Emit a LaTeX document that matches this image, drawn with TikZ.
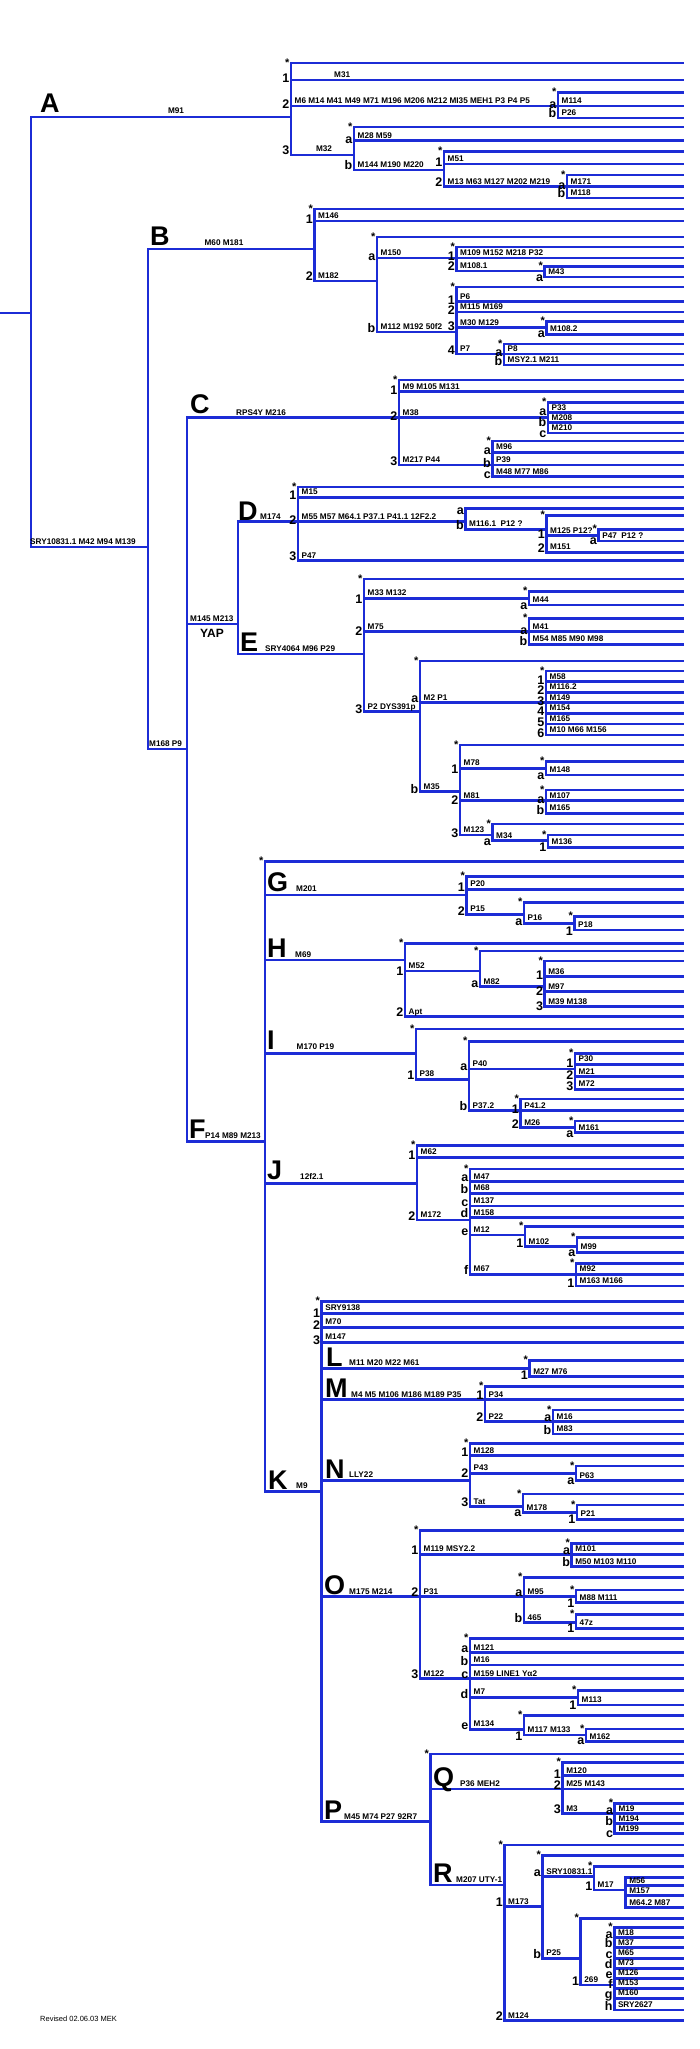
\documentclass[tikz,border=0pt]{standalone}
\usepackage{fontspec}
\setmainfont{Liberation Sans}
\usetikzlibrary{positioning}
\definecolor{treeblue}{RGB}{28,44,214}
\newcommand\rim{683}
% vertical bar of a clade
\newcommand\stem[3]{\draw[br] (#1,#2) -- (#1,#3);}
% paragroup line with its star
\newcommand\tip[2]{\draw[br] (#1,#2) -- (\rim,#2); \node[star] at (#1-1.5,#2+3.2) {*};}
% branch: [index drop] bar x, y, end x, index, markers
\newcommand\twig[6][2.5]{\draw[br] (#2,#3) -- (#4,#3);
  \node[idx] at (#2-1.5,#3+#1) {#5};
  \node[mk] at (#2+3.5,#3-2.5) {#6};}

\begin{document}
\begin{tikzpicture}[x=1pt,y=-1pt,
    br/.style={draw=treeblue,line width=2.7pt,line cap=rect},
    mk/.style={font=\bfseries\fontsize{8.2}{9}\selectfont,anchor=base west,inner sep=0pt},
    idx/.style={font=\bfseries\fontsize{12.5}{13}\selectfont,anchor=base east,inner sep=0pt},
    star/.style={font=\bfseries\fontsize{11}{11}\selectfont,anchor=base east,inner sep=0pt},
    clade/.style={font=\bfseries\fontsize{27}{27}\selectfont,anchor=base west,inner sep=0pt}]
\useasboundingbox (0,0) rectangle (700,2049);

% root
\draw[br] (0,313) -- (31,313);
\stem{31}{117}{547}

% A
\draw[br] (31,117) -- (291,117);
\node[clade] (A) at (40,113) {A};
\node[mk,anchor=base] at (176,114) {M91};
\stem{291}{63}{155}
\tip{291}{63}
\twig{291}{80}{\rim}{1}{}
\node[mk] at (334,77.5) {M31};
\twig{291}{106}{558}{2}{M6 M14 M41 M49 M71 M196 M206 M212 MI35 MEH1 P3 P4 P5}
  \stem{558}{92.7}{118}
  \tip{558}{92.7}
  \twig{558}{106}{\rim}{a}{M114}
  \twig[0]{558}{118}{\rim}{b}{P26}
\twig[0]{291}{155}{354}{3}{}
\node[mk,anchor=base] at (324,152) {M32};
  \stem{354}{127}{170}
  \tip{354}{127}
  \twig{354}{140.7}{\rim}{a}{M28 M59}
  \twig[0]{354}{170}{444}{b}{M144 M190 M220}
    \stem{444}{151.7}{186.7}
    \tip{444}{151.7}
    \twig{444}{164}{\rim}{1}{M51}
    \twig[0]{444}{186.7}{567}{2}{M13 M63 M127 M202 M219}
      \stem{567}{175}{198}
      \tip{567}{175}
      \twig{567}{186.7}{\rim}{a}{M171}
      \twig[0]{567}{198}{\rim}{b}{M118}

% B
\draw[br] (31,547) -- (148,547);
\node[mk] at (30,544.5) {SRY10831.1 M42 M94 M139};
\stem{148}{249}{749}
\draw[br] (148,249) -- (314.5,249);
\node[clade] (B) at (150,246) {B};
\node[mk,anchor=base] at (224,246) {M60 M181};
\stem{314.5}{209}{281}
\tip{314.5}{209}
\twig{314.5}{221}{\rim}{1}{M146}
\twig[0]{314.5}{281}{377}{2}{M182}
  \stem{377}{237}{332}
  \tip{377}{237}
  \twig{377}{258}{456.5}{a}{M150}
    \stem{456.5}{247}{271}
    \tip{456.5}{247}
    \twig{456.5}{258}{\rim}{1}{M109 M152 M218 P32}
    \twig[0]{456.5}{271}{544.7}{2}{M108.1}
      \stem{544.7}{266.7}{277}
      \tip{544.7}{266.7}
      \twig[5]{544.7}{277}{\rim}{a}{M43}
  \twig[0]{377}{332}{456.5}{b}{M112 M192 50f2}
    \stem{456.5}{287}{354}
    \tip{456.5}{287}
    \twig{456.5}{301.7}{\rim}{1}{P6}
    \twig{456.5}{312}{\rim}{2}{M115 M169}
    \twig{456.5}{327.7}{546.5}{3}{M30 M129}
      \stem{546.5}{321.7}{334.3}
      \tip{546.5}{321.7}
      \twig[3]{546.5}{334.3}{\rim}{a}{M108.2}
    \twig[0]{456.5}{354}{504}{4}{P7}
      \stem{504}{344}{365}
      \tip{504}{344}
      \twig{504}{354}{\rim}{a}{P8}
      \twig[0]{504}{365}{\rim}{b}{MSY2.1 M211}

% C
\draw[br] (148,749) -- (187,749);
\node[mk] at (149,746) {M168 P9};
\stem{187}{417.7}{1141.7}
\draw[br] (187,417.7) -- (399,417.7);
\node[clade] (C) at (190,413) {C};
\node[mk] at (236,415) {RPS4Y M216};
\stem{399}{380}{465}
\tip{399}{380}
\twig{399}{391.7}{\rim}{1}{M9 M105 M131}
\twig{399}{417.7}{548}{2}{M38}
  \stem{548}{402.7}{433}
  \tip{548}{402.7}
  \twig{548}{412.7}{\rim}{a}{P33}
  \twig[4]{548}{422.7}{\rim}{b}{M208}
  \twig[4]{548}{433}{\rim}{c}{M210}
\twig[0]{399}{465}{492.5}{3}{M217 P44}
  \stem{492.5}{441}{476.7}
  \tip{492.5}{441}
  \twig{492.5}{452.3}{\rim}{a}{M96}
  \twig{492.5}{465}{\rim}{b}{P39}
  \twig[2]{492.5}{476.7}{\rim}{c}{M48 M77 M86}

% YAP
\draw[br] (187,624) -- (238,624);
\node[mk] at (190,621.5) {M145 M213};
\node[font=\bfseries\fontsize{12}{12}\selectfont,anchor=base,inner sep=0pt] at (212,637) {YAP};
\stem{238}{521.7}{654}

% D
\draw[br] (238,521.7) -- (298,521.7);
\node[clade] (D) at (238,520) {D};
\node[mk] at (260,519) {M174};
\stem{298}{487}{560.7}
\tip{298}{487}
\twig{298}{497.3}{\rim}{1}{M15}
\twig{298}{521.7}{465.5}{2}{M55 M57 M64.1 P37.1 P41.1 12F2.2}
  \stem{465.5}{508.3}{529.3}
  \twig[6]{465.5}{508.3}{\rim}{a}{}
  \twig[0]{465.5}{529.3}{546.5}{b}{M116.1 \ P12 ?}
    \stem{546.5}{515.7}{552.3}
    \tip{546.5}{515.7}
    \twig{546.5}{535.7}{598.6}{1}{M125 P12?}
      \stem{598.6}{529.3}{541}
      \tip{598.6}{529.3}
      \twig[3]{598.6}{541}{\rim}{a}{P47 \ P12 ?}
    \twig[0]{546.5}{552.3}{\rim}{2}{M151}
\twig[0]{298}{560.7}{\rim}{3}{P47}

% E
\draw[br] (238,654) -- (364,654);
\node[clade] (E) at (240,651.5) {E};
\node[mk] at (265,651) {SRY4064 M96 P29};
\stem{364}{579}{711.7}
\tip{364}{579}
\twig[5]{364}{598.3}{529}{1}{M33 M132}
  \stem{529}{591.7}{605}
  \tip{529}{591.7}
  \twig[4]{529}{605}{\rim}{a}{M44}
\twig[4]{364}{631.7}{529}{2}{M75}
  \stem{529}{618.3}{644.3}
  \tip{529}{618.3}
  \twig{529}{631.7}{\rim}{a}{M41}
  \twig[1]{529}{644.3}{\rim}{b}{M54 M85 M90 M98}
\twig[2]{364}{711.7}{420}{3}{P2 DYS391p}
  \stem{420}{661}{791.7}
  \tip{420}{661}
  \twig[0]{420}{702.7}{546}{a}{M2 P1}
    \stem{546}{671}{735}
    \tip{546}{671}
    \twig{546}{681.7}{\rim}{1}{M58}
    \twig{546}{692.3}{\rim}{2}{M116.2}
    \twig{546}{702.7}{\rim}{3}{M149}
    \twig{546}{713.3}{\rim}{4}{M154}
    \twig{546}{724}{\rim}{5}{M165}
    \twig[2]{546}{735}{\rim}{6}{M10 M66 M156}
  \twig[2]{420}{791.7}{460}{b}{M35}
    \stem{460}{745}{835}
    \tip{460}{745}
    \twig[5]{460}{768.3}{546}{1}{M78}
      \stem{546}{761.7}{775}
      \tip{546}{761.7}
      \twig[4]{546}{775}{\rim}{a}{M148}
    \twig[4]{460}{800.7}{546}{2}{M81}
      \stem{546}{790}{813.3}
      \tip{546}{790}
      \twig{546}{800.7}{\rim}{a}{M107}
      \twig[1]{546}{813.3}{\rim}{b}{M165}
    \twig[2]{460}{835}{492.5}{3}{M123}
      \stem{492.5}{824}{840.7}
      \tip{492.5}{824}
      \twig[5]{492.5}{840.7}{548}{a}{M34}
        \stem{548}{835}{847.3}
        \tip{548}{835}
        \twig[4]{548}{847.3}{\rim}{1}{M136}

% F
\draw[br] (187,1141.7) -- (265,1141.7);
\node[clade] (F) at (189,1138) {F};
\node[mk] at (205,1138.5) {P14 M89 M213};
\stem{265}{861.7}{1491.7}
\tip{265}{861.7}

% G
\draw[br] (265,895) -- (466.6,895);
\node[clade] (G) at (267,891.5) {G};
\node[mk] at (296,891) {M201};
\stem{466.6}{876.7}{914.3}
\tip{466.6}{876.7}
\twig{466.6}{889.3}{\rim}{1}{P20}
\twig[1]{466.6}{914.3}{524}{2}{P15}
  \stem{524}{902.7}{923.3}
  \tip{524}{902.7}
  \twig[2]{524}{923.3}{574.5}{a}{P16}
    \stem{574.5}{916.7}{930}
    \tip{574.5}{916.7}
    \twig[5]{574.5}{930}{\rim}{1}{P18}

% H
\draw[br] (265,960) -- (405,960);
\node[clade] (H) at (267,957.5) {H};
\node[mk] at (295,957) {M69};
\stem{405}{943.3}{1016.7}
\tip{405}{943.3}
\twig[4]{405}{971}{480}{1}{M52}
  \stem{480}{951}{986.7}
  \tip{480}{951}
  \twig[1]{480}{986.7}{544.7}{a}{M82}
    \stem{544.7}{961}{1006.7}
    \tip{544.7}{961}
    \twig{544.7}{976.7}{\rim}{1}{M36}
    \twig[4]{544.7}{991.7}{\rim}{2}{M97}
    \twig[4]{544.7}{1006.7}{\rim}{3}{M39 M138}
\twig[0]{405}{1016.7}{\rim}{2}{Apt}

% I
\draw[br] (265,1053.3) -- (416,1053.3);
\node[clade] (I) at (267,1049.5) {I};
\node[mk] at (296.5,1049) {M170 P19};
\stem{416}{1029}{1079.3}
\tip{416}{1029}
\twig[0]{416}{1079.3}{469}{1}{P38}
  \stem{469}{1041.7}{1110.5}
  \tip{469}{1041.7}
  \twig[1]{469}{1069}{575}{a}{P40}
    \stem{575}{1053.3}{1089.3}
    \tip{575}{1053.3}
    \twig[3]{575}{1064.3}{\rim}{1}{P30}
    \twig[3]{575}{1076.7}{\rim}{2}{M21}
    \twig[1]{575}{1089.3}{\rim}{3}{M72}
  \twig[0]{469}{1110.5}{520.6}{b}{P37.2}
    \stem{520.6}{1099}{1127.7}
    \tip{520.6}{1099}
    \twig{520.6}{1110.5}{\rim}{1}{P41.2}
    \twig[1]{520.6}{1127.7}{575}{2}{M26}
      \stem{575}{1121}{1132.7}
      \tip{575}{1121}
      \twig[5]{575}{1132.7}{\rim}{a}{M161}

% J
\draw[br] (265,1183.3) -- (417,1183.3);
\node[clade] (J) at (267,1179) {J};
\node[mk] at (300,1179) {12f2.1};
\stem{417}{1145.7}{1220}
\tip{417}{1145.7}
\twig[2]{417}{1157.3}{\rim}{1}{M62}
\twig[0]{417}{1220}{470}{2}{M172}
  \stem{470}{1169}{1274.3}
  \tip{470}{1169}
  \twig[0]{470}{1181.7}{\rim}{a}{M47}
  \twig[0]{470}{1193.3}{\rim}{b}{M68}
  \twig[0]{470}{1206}{\rim}{c}{M137}
  \twig[0]{470}{1217.7}{\rim}{d}{M158}
  \twig[0]{470}{1235}{525}{e}{M12}
    \stem{525}{1226.7}{1246.7}
    \tip{525}{1226.7}
    \twig[1]{525}{1246.7}{577}{1}{M102}
      \stem{577}{1237.7}{1252.3}
      \tip{577}{1237.7}
      \twig[4]{577}{1252.3}{\rim}{a}{M99}
  \twig[0]{470}{1274.3}{576}{f}{M67}
    \stem{576}{1263.3}{1286}
    \tip{576}{1263.3}
    \twig{576}{1274.3}{\rim}{}{M92}
    \twig[1]{576}{1286}{\rim}{1}{M163 M166}

% K
\draw[br] (265,1491.7) -- (321.7,1491.7);
\node[clade] (K) at (268,1489) {K};
\node[mk] at (296,1488.5) {M9};
\stem{321.7}{1301.7}{1821.7}
\tip{321.7}{1301.7}
\twig[4]{321.7}{1313.3}{\rim}{1}{SRY9138}
\twig{321.7}{1327.3}{\rim}{2}{M70}
\twig{321.7}{1342.3}{\rim}{3}{M147}

% L
\draw[br] (321.7,1368.5) -- (529.6,1368.5);
\node[clade] (L) at (326,1366) {L};
\node[mk] at (349,1365.5) {M11 M20 M22 M61};
\stem{529.6}{1360.7}{1376.7}
\tip{529.6}{1360.7}
\twig[3]{529.6}{1376.7}{\rim}{1}{M27 M76}

% M
\draw[br] (321.7,1399.5) -- (485,1399.5);
\node[clade] (M) at (325,1397.5) {M};
\node[mk] at (351,1397) {M4 M5 M106 M186 M189 P35};
\stem{485}{1386.7}{1421.7}
\tip{485}{1386.7}
\twig[0]{485}{1399.5}{\rim}{1}{P34}
\twig[0]{485}{1421.7}{553}{2}{P22}
  \stem{553}{1410}{1434}
  \tip{553}{1410}
  \twig[0]{553}{1421.7}{\rim}{a}{M16}
  \twig[0]{553}{1434}{\rim}{b}{M83}

% N
\draw[br] (321.7,1480.7) -- (470,1480.7);
\node[clade] (N) at (325,1478) {N};
\node[mk] at (349,1477.5) {LLY22};
\stem{470}{1443.3}{1506.7}
\tip{470}{1443.3}
\twig[1]{470}{1455.7}{\rim}{1}{M128}
\twig[4]{470}{1473.3}{576}{2}{P43}
  \stem{576}{1466}{1480.7}
  \tip{576}{1466}
  \twig[4]{576}{1480.7}{\rim}{a}{P63}
\twig[0]{470}{1506.7}{523}{3}{Tat}
  \stem{523}{1494}{1512.7}
  \tip{523}{1494}
  \twig[4]{523}{1512.7}{577}{a}{M178}
    \stem{577}{1505}{1519.3}
    \tip{577}{1505}
    \twig[4]{577}{1519.3}{\rim}{1}{P21}

% O
\draw[br] (321.7,1596.7) -- (420,1596.7);
\node[clade] (O) at (324,1594) {O};
\node[mk] at (349,1594) {M175 M214};
\stem{420}{1530.7}{1678.5}
\tip{420}{1530.7}
\twig[0]{420}{1554.3}{571.7}{1}{M119 MSY2.2}
  \stem{571.7}{1543.3}{1566.7}
  \tip{571.7}{1543.3}
  \twig[0]{571.7}{1554.3}{\rim}{a}{M101}
  \twig[0]{571.7}{1566.7}{\rim}{b}{M50 M103 M110}
\twig[0]{420}{1596.7}{524}{2}{P31}
  \stem{524}{1577.7}{1622.7}
  \tip{524}{1577.7}
  \twig[0]{524}{1596.7}{576}{a}{M95}
    \stem{576}{1590}{1602.7}
    \tip{576}{1590}
    \twig[5]{576}{1602.7}{\rim}{1}{M88 M111}
  \twig[0]{524}{1622.7}{576}{b}{465}
    \stem{576}{1614.3}{1628.3}
    \tip{576}{1614.3}
    \twig[4]{576}{1628.3}{\rim}{1}{47z}
\twig[0]{420}{1678.5}{470}{3}{M122}
  \stem{470}{1638.3}{1729.3}
  \tip{470}{1638.3}
  \twig[0]{470}{1652.7}{\rim}{a}{M121}
  \twig[0]{470}{1665}{\rim}{b}{M16}
  \twig[0]{470}{1678.5}{\rim}{c}{M159 LINE1 Yα2}
  \twig[1]{470}{1697.3}{578}{d}{M7}
    \stem{578}{1690.7}{1705}
    \tip{578}{1690.7}
    \twig[4]{578}{1705}{\rim}{1}{M113}
  \twig[0]{470}{1729.3}{524}{e}{M134}
    \stem{524}{1715.7}{1735}
    \tip{524}{1715.7}
    \twig[5]{524}{1735}{586}{1}{M117 M133}
      \stem{586}{1729}{1741.7}
      \tip{586}{1729}
      \twig[3]{586}{1741.7}{\rim}{a}{M162}

% P
\draw[br] (321.7,1821.7) -- (430.6,1821.7);
\node[clade] (P) at (324,1819) {P};
\node[mk] at (344,1819) {M45 M74 P27 92R7};
\stem{430.6}{1754}{1885}
\tip{430.6}{1754}

% Q
\draw[br] (430.6,1789) -- (562.6,1789);
\node[clade] (Q) at (433,1786.5) {Q};
\node[mk] at (460,1786.5) {P36 MEH2};
\stem{562.6}{1762.7}{1813.5}
\tip{562.6}{1762.7}
\twig{562.6}{1775.7}{\rim}{1}{M120}
\twig[0]{562.6}{1789}{\rim}{2}{M25 M143}
\twig[0]{562.6}{1813.5}{614.8}{3}{M3}
  \stem{614.8}{1803.3}{1833.5}
  \tip{614.8}{1803.3}
  \twig[1]{614.8}{1813.5}{\rim}{a}{M19}
  \twig[2]{614.8}{1823.5}{\rim}{b}{M194}
  \twig[4]{614.8}{1833.5}{\rim}{c}{M199}

% R
\draw[br] (430.6,1885) -- (504.5,1885);
\node[clade] (R) at (433,1882.5) {R};
\node[mk] at (456,1882) {M207 UTY-1};
\stem{504.5}{1845}{2020.7}
\tip{504.5}{1845}
\twig[0]{504.5}{1906.7}{542.6}{1}{M173}
  \stem{542.6}{1855.7}{1958.3}
  \tip{542.6}{1855.7}
  \twig[0]{542.6}{1876.7}{594}{a}{SRY10831.1}
    \stem{594}{1866.7}{1890}
    \tip{594}{1866.7}
    \twig[0]{594}{1890}{625.6}{1}{M17}
      \stem{625.6}{1877.7}{1907.7}
      \draw[br] (625.6,1877.7) -- (\rim,1877.7);
      \twig{625.6}{1885.7}{\rim}{}{M56}
      \twig{625.6}{1895.7}{\rim}{}{M157}
      \twig{625.6}{1907.7}{\rim}{}{M64.2 M87}
  \twig[0]{542.6}{1958.3}{580.7}{b}{P25}
    \stem{580.7}{1918.3}{1985}
    \tip{580.7}{1918.3}
    \twig[0]{580.7}{1985}{614.3}{1}{269}
      \stem{614.3}{1927.7}{2010}
      \tip{614.3}{1927.7}
      \twig[1]{614.3}{1937.7}{\rim}{a}{M18}
      \twig[0]{614.3}{1947.7}{\rim}{b}{M37}
      \twig[0]{614.3}{1958.3}{\rim}{c}{M65}
      \twig[0]{614.3}{1968.3}{\rim}{d}{M73}
      \twig[0]{614.3}{1978.3}{\rim}{e}{M126}
      \twig[0]{614.3}{1988.3}{\rim}{f}{M153}
      \twig[0]{614.3}{1998.3}{\rim}{g}{M160}
      \twig[0]{614.3}{2010}{\rim}{h}{SRY2627}
\twig[0]{504.5}{2020.7}{\rim}{2}{M124}

\node[font=\fontsize{7.5}{8}\selectfont,anchor=base west,inner sep=0pt] at (40,2021.5) {Revised 02.06.03 MEK};
\end{tikzpicture}
\end{document}
